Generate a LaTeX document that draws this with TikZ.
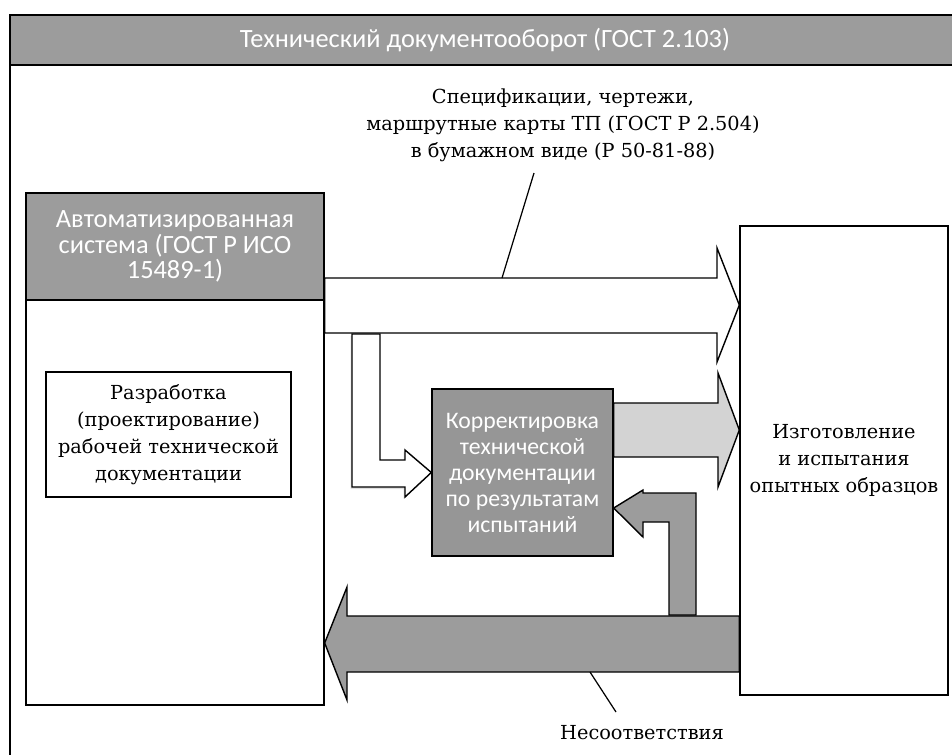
\documentclass[tikz,border=0pt]{standalone}
\usepackage{fontspec}
\setmainfont{DejaVu Serif}
\newfontfamily\boxsans{Carlito}
\usetikzlibrary{positioning,shadows}
\definecolor{hdrgray}{HTML}{9C9C9C}
\definecolor{boxgray}{HTML}{969696}
\definecolor{ltgray}{HTML}{D3D3D3}
\tikzset{%
  frame/.style = { draw = black, line width = 1.1pt },
  wbox/.style  = { draw = black, line width = 0.8pt, fill = white, align = center, inner sep = 0pt,
                   font = \fontsize{11}{15.3}\selectfont },
  gbox/.style  = { draw = black, line width = 0.8pt, fill = #1, align = center, inner sep = 0pt,
                   text = white, font = \boxsans\fontsize{13.5}{14.8}\selectfont },
  blk/.style   = { draw = black, line width = 0.8pt, fill = #1, line join = miter },
  lbl/.style   = { align = center, inner sep = 0pt, font = \fontsize{11}{15.3}\selectfont },
  lead/.style  = { draw = black, line width = 0.7pt }
}

\begin{document}
\begin{tikzpicture}[x=0.02cm, y=-0.02cm]
  \useasboundingbox (0,0) rectangle (952,754);
  \clip (0,0) rectangle (952,754);
  \draw[frame] (10,15) rectangle (960,760);
  \node(hdr)[gbox=hdrgray, frame, minimum width=19cm, minimum height=1cm,
             font=\boxsans\fontsize{15}{16}\selectfont] at (485,40)
    {Технический документооборот (ГОСТ 2.103)};

  % blocks
  \node(as)[wbox, minimum width=5.96cm, minimum height=10.24cm] at (175,449) {};
  \node(ash)[gbox=hdrgray, minimum width=5.96cm, minimum height=2.14cm, anchor=north,
             font=\boxsans\fontsize{15}{14.4}\selectfont] at (as.north)
    {Автоматизированная\\система (ГОСТ Р ИСО\\15489-1)};
  \node(dev)[wbox, minimum width=4.9cm, minimum height=2.5cm] at (168.5,434.5)
    {Разработка\\(проектирование)\\рабочей технической\\документации};
  \node(corr)[gbox=boxgray, minimum width=3.62cm, minimum height=3.34cm] at (522.5,472.5)
    {Корректировка\\технической\\документации\\по результатам\\испытаний};
  \node(mfg)[wbox, minimum width=4.16cm, minimum height=9.38cm] at (844,460.5)
    {Изготовление\\и испытания\\опытных образцов};

  % labels
  \node(spec)[lbl] at (563,125) {Спецификации, чертежи,\\маршрутные карты ТП (ГОСТ Р 2.504)\\в бумажном виде (Р 50-81-88)};
  \node(nc)[lbl] at (642,733) {Несоответствия};
  \coordinate (specA) at (502,278);
  \coordinate (specB) at (534,173);
  \coordinate (ncA) at (590,672);
  \coordinate (ncB) at (616,712);

  % block arrows
  \draw[blk=white, drop shadow={shadow xshift=-0.8pt, shadow yshift=-1.2pt, opacity=0.25}]
    (352,334) -- (380,334) -- (380,460) -- (405,460) -- (405,450) -- (corr.west)
    -- (405,497) -- (405,487) -- (352,487) -- cycle;
  \draw[blk=white] (as.east |- 0,278) -- (717,278) -- (717,248) -- (mfg.west |- 0,305)
    -- (717,362) -- (717,333) -- (as.east |- 0,333) -- cycle;
  \draw[blk=ltgray] (corr.east |- 0,403) -- (718,403) -- (718,373) -- (mfg.west |- 0,430)
    -- (718,487) -- (718,457) -- (corr.east |- 0,457) -- cycle;
  \draw[blk=hdrgray] (696,615) -- (696,493) -- (643,493) -- (643,490) -- (corr.east |- 0,508)
    -- (643,537) -- (643,522) -- (669,522) -- (669,615) -- cycle;
  \draw[blk=hdrgray] (mfg.west |- 0,616) -- (347,616) -- (347,587) -- (as.east |- 0,643)
    -- (347,700) -- (347,672) -- (mfg.west |- 0,672) -- cycle;

  % leader lines
  \draw[lead] (specA) -- (specB);
  \draw[lead] (ncA) -- (ncB);
\end{tikzpicture}
\end{document}
